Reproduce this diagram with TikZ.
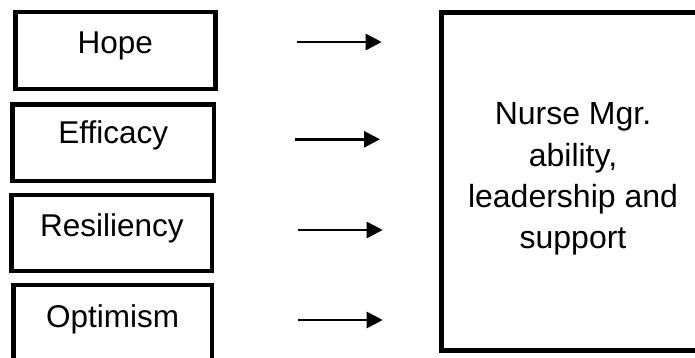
\documentclass[tikz,border=0pt]{standalone}
\usepackage{fontspec}
\setmainfont{Liberation Sans}
\usetikzlibrary{arrows.meta}
\begin{document}
\begin{tikzpicture}[x=1pt,y=-1pt,
  box/.style={draw, line width=4.5pt, inner sep=0pt, outer sep=0pt, anchor=north west,
    font=\fontsize{31.5}{41.3}\selectfont, align=center},
  arr/.style={-{Triangle[length=16pt,width=16pt]}, line width=2.8pt}]
\useasboundingbox (0,0) rectangle (695,358);
\clip (0,0) rectangle (695,358);
\fill[white] (0,0) rectangle (695,358);
\node[box, minimum width=200pt, text height=41.3pt, text depth=35.7pt] (hope) at (15.3,12) {Hope};
\node[box, minimum width=201.5pt, text height=39.5pt, text depth=37pt] (efficacy) at (12.5,104.5) {Efficacy};
\node[box, minimum width=200.5pt, text height=41pt, text depth=35pt] (resiliency) at (11.7,195) {Resiliency};
\node[box, minimum width=198.7pt, text height=42pt, text depth=36pt] (optimism) at (13.3,285) {Optimism};
\node[box, line width=4.7pt, minimum width=263pt, minimum height=338pt,
  font=\fontsize{32}{41.3}\selectfont] (mgr) at (441.5,12.5)
  {Nurse Mgr.\\ability,\\leadership and\\support\rule[-11.5pt]{0pt}{11.5pt}};
\coordinate (a1s) at (296.7,42);  \coordinate (a1e) at (381.7,42);
\coordinate (a2s) at (295,139.3); \coordinate (a2e) at (380,139.3);
\coordinate (a3s) at (298,230);   \coordinate (a3e) at (382.7,230);
\coordinate (a4s) at (298,320);   \coordinate (a4e) at (382.7,320);
\draw[arr] (a1s) -- (a1e);
\draw[arr] (a2s) -- (a2e);
\draw[arr] (a3s) -- (a3e);
\draw[arr] (a4s) -- (a4e);
\end{tikzpicture}
\end{document}
